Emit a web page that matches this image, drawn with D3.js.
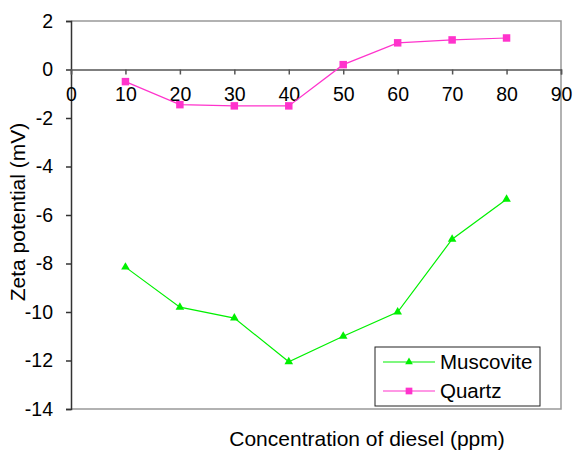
<!DOCTYPE html>
<html>
<head>
<meta charset="utf-8">
<script src="https://cdn.jsdelivr.net/npm/d3@7"></script>
<style>
body { margin: 0; background: #fff; }
svg text { font-family: "Liberation Sans", Arial, sans-serif; }
</style>
</head>
<body>
<div id="chart"></div>
<script>
var concentration = [10, 20, 30, 40, 50, 60, 70, 80];
var muscovite = [-8.15, -9.8, -10.25, -12.05, -11.0, -10.0, -7.0, -5.35];
var quartz = [-0.5, -1.45, -1.5, -1.5, 0.2, 1.1, 1.22, 1.3];
var xTicks = [0, 10, 20, 30, 40, 50, 60, 70, 80, 90];
var yTicks = [2, 0, -2, -4, -6, -8, -10, -12, -14];

var margin = {
        top: 21,
        right: 12,
        bottom: 46,
        left: 71
    },
    width = 573 - margin.left - margin.right,
    height = 455 - margin.top - margin.bottom;

var svg = d3.select('#chart')
    .append('svg')
    .attr('width', 573)
    .attr('height', 455)
var g = svg.append('g')
    .attr('transform', 'translate(' + margin.left + ',' + margin.top + ')')

var x = d3.scaleLinear().domain([0, 90]).range([0, width]);
var y = d3.scaleLinear().domain([-14, 2]).range([height, 0]);

// plot frame (top, right, bottom)
g.append('path')
    .attr('d', 'M0,0H' + width + 'V' + height + 'H0')
    .attr('fill', 'none')
    .attr('stroke', '#999')
    .attr('stroke-width', 1.5)

// y axis
var yAxis = g.append('g')
    .call(d3.axisLeft(y).tickValues(yTicks).tickSize(5).tickPadding(13))
yAxis.select('.domain').attr('stroke', '#333').attr('stroke-width', 1.5)
yAxis.selectAll('.tick line').attr('stroke', '#333').attr('stroke-width', 1.5)
yAxis.selectAll('text').attr('font-size', 19.5).attr('fill', '#000')
    .text(function (d) { return d < 0 ? '-' + Math.abs(d) : d; })

// x axis at zero
var xAxis = g.append('g')
    .attr('transform', 'translate(0,' + y(0) + ')')
    .call(d3.axisBottom(x).tickValues(xTicks).tickSize(5).tickPadding(13))
xAxis.select('.domain').attr('stroke', '#555').attr('stroke-width', 1.5)
xAxis.selectAll('.tick line').attr('stroke', '#555').attr('stroke-width', 1.5)
xAxis.selectAll('text').attr('font-size', 19.5).attr('fill', '#000')

var line = d3.line()
    .x(function (d) { return x(d[0]); })
    .y(function (d) { return y(d[1]); })

var series = [
    { name: 'Muscovite', values: muscovite, color: '#00f000', symbol: d3.symbolTriangle, size: 32 },
    { name: 'Quartz', values: quartz, color: '#ff33cc', symbol: d3.symbolSquare, size: 56 }
];

series.forEach(function (s) {
    var pts = concentration.map(function (c, i) { return [c, s.values[i]]; });
    g.append('path')
        .datum(pts)
        .attr('d', line)
        .attr('fill', 'none')
        .attr('stroke', s.color)
        .attr('stroke-width', 1.2)
    g.selectAll(null)
        .data(pts)
        .enter()
        .append('path')
        .attr('d', d3.symbol().type(s.symbol).size(s.size))
        .attr('transform', function (d) { return 'translate(' + x(d[0]) + ',' + y(d[1]) + ')'; })
        .attr('fill', s.color)
});

// legend
var legend = svg.append('g').attr('transform', 'translate(375,347)')
legend.append('rect')
    .attr('width', 165)
    .attr('height', 59)
    .attr('fill', '#fff')
    .attr('stroke', '#222')
    .attr('stroke-width', 1)
series.forEach(function (s, i) {
    var ly = 15 + i * 29;
    legend.append('line')
        .attr('x1', 8).attr('x2', 60)
        .attr('y1', ly).attr('y2', ly)
        .attr('stroke', s.color)
        .attr('stroke-width', 1.2)
    legend.append('path')
        .attr('d', d3.symbol().type(s.symbol).size(s.size * 0.8))
        .attr('transform', 'translate(34,' + ly + ')')
        .attr('fill', s.color)
    legend.append('text')
        .attr('x', 65)
        .attr('y', ly)
        .attr('dy', '0.35em')
        .attr('font-size', 20.5)
        .text(s.name)
});

// axis titles
svg.append('text')
    .attr('x', 367)
    .attr('y', 446)
    .attr('text-anchor', 'middle')
    .attr('font-size', 21)
    .text('Concentration of diesel (ppm)')
svg.append('text')
    .attr('transform', 'translate(18,212) rotate(-90)')
    .attr('dy', '0.35em')
    .attr('text-anchor', 'middle')
    .attr('font-size', 21)
    .text('Zeta potential (mV)')
</script>
</body>
</html>
